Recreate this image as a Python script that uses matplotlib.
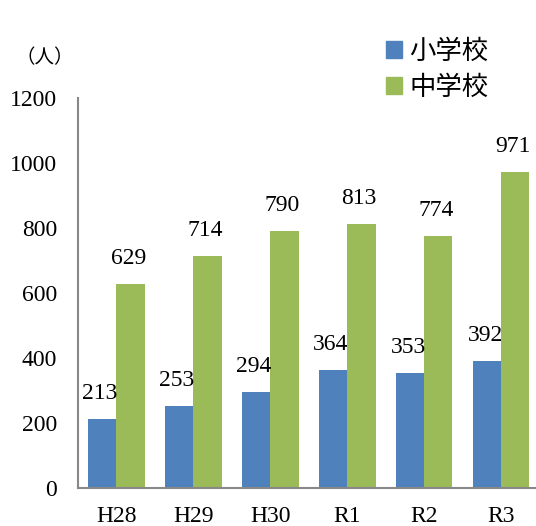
import numpy as np
import matplotlib.pyplot as plt
from matplotlib.patches import Patch

years = ['H28', 'H29', 'H30', 'R1', 'R2', 'R3']
elementary = [213, 253, 294, 364, 353, 392]
junior_high = [629, 714, 790, 813, 774, 971]
series_names = ['小学校', '中学校']

blue = '#4F81BD'
green = '#9BBB59'
num_font = 'Liberation Serif'
jp_font = ['Noto Sans CJK JP', 'DejaVu Sans']

fig = plt.figure(figsize=(5.36, 5.26), dpi=100)
ax = fig.add_axes([78 / 536, 38 / 526, 1 - 78 / 536, 390 / 526])

x = np.arange(len(years))
w = 0.365
b1 = ax.bar(x - w / 2, elementary, w, color=blue)
b2 = ax.bar(x + w / 2, junior_high, w, color=green)

for bars, vals in ((b1, elementary), (b2, junior_high)):
    for bar, v in zip(bars, vals):
        ax.text(bar.get_x() + bar.get_width() / 2 - 0.03, v + 46, str(v),
                ha='center', va='bottom', fontsize=17, family=num_font)

ax.set_xlim(-0.5, 5.45)
ax.set_ylim(0, 1200)
ax.set_yticks(range(0, 1201, 200))
ax.set_xticks(x)
ax.set_xticklabels(years)
for lab in ax.get_xticklabels() + ax.get_yticklabels():
    lab.set_family(num_font)
    lab.set_fontsize(17)
ax.tick_params(axis='both', length=0)
ax.tick_params(axis='y', pad=15)
ax.tick_params(axis='x', pad=13)

ax.spines['top'].set_visible(False)
ax.spines['right'].set_visible(False)
ax.spines['left'].set_color('#888888')
ax.spines['bottom'].set_color('#888888')
ax.spines['left'].set_linewidth(1.5)
ax.spines['bottom'].set_linewidth(1.5)

fig.text(45 / 536, 1 - 58 / 526, '（人）', ha='center', va='center',
         fontsize=14, family=jp_font)

handles = [Patch(color=blue), Patch(color=green)]
fig.legend(handles, series_names, loc='upper left',
           bbox_to_anchor=(362 / 536, 1 - 14 / 526), frameon=False,
           prop={'family': jp_font, 'size': 19}, handlelength=0.6,
           handleheight=0.6, handletextpad=0.3, labelspacing=0.35)

fig.savefig('out.png', dpi=100)
